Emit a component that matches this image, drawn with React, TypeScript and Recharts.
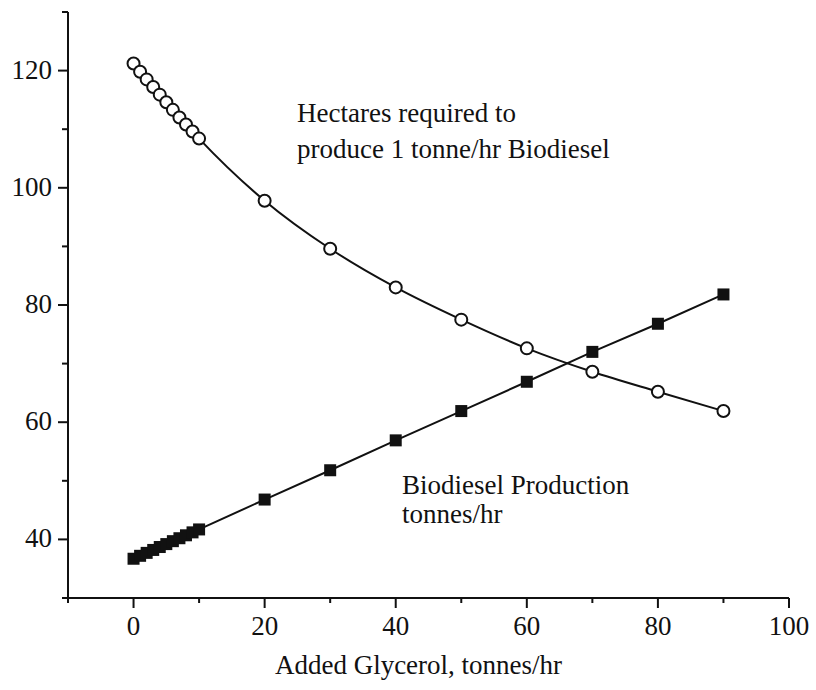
import React from 'react';
import { ComposedChart, Line, XAxis, YAxis } from 'recharts';

// added glycerol, tonnes/hr
const glycerol = [0, 1, 2, 3, 4, 5, 6, 7, 8, 9, 10, 20, 30, 40, 50, 60, 70, 80, 90];
// hectares required to produce 1 tonne/hr biodiesel
const hectares = [
  121.2, 119.8, 118.5, 117.2, 115.9, 114.6, 113.3, 112.0, 110.8, 109.6, 108.4,
  97.8, 89.6, 83.0, 77.5, 72.6, 68.6, 65.2, 61.9,
];
// biodiesel production, tonnes/hr
const biodiesel = [
  36.7, 37.2, 37.7, 38.2, 38.7, 39.2, 39.7, 40.2, 40.7, 41.2, 41.7,
  46.8, 51.8, 56.9, 61.9, 66.9, 72.0, 76.8, 81.8,
];

const xTicks = [-10, 0, 10, 20, 30, 40, 50, 60, 70, 80, 90, 100];
const yTicks = [30, 40, 50, 60, 70, 80, 90, 100, 110, 120, 130];

const FONT = '"Liberation Serif", "Times New Roman", serif';
const INK = '#111';
const FS = 27;

const rows = glycerol.map((x, i) => ({ x, hectares: hectares[i], biodiesel: biodiesel[i] }));

// labelled ticks every 20, short unlabelled ticks in between
const isMajor = (v: number) => v % 20 === 0;

function XTick(props: any) {
  const { x, y, payload } = props;
  const v = payload.value as number;
  const major = isMajor(v);
  return (
    <g>
      <line x1={x} y1={y} x2={x} y2={y + (major ? 10 : 5)} stroke={INK} strokeWidth={2} />
      {major && (
        <text x={x} y={y + 37} textAnchor="middle" fontFamily={FONT} fontSize={FS} fill={INK}>
          {v}
        </text>
      )}
    </g>
  );
}

function YTick(props: any) {
  const { x, y, payload } = props;
  const v = payload.value as number;
  const major = isMajor(v);
  return (
    <g>
      <line x1={x} y1={y} x2={x - (major ? 10 : 6)} y2={y} stroke={INK} strokeWidth={2} />
      {major && (
        <text x={x - 16} y={y + 8} textAnchor="end" fontFamily={FONT} fontSize={FS} fill={INK}>
          {v}
        </text>
      )}
    </g>
  );
}

function OpenCircle(props: any) {
  const { cx, cy, index } = props;
  return <circle key={`c-${index}`} cx={cx} cy={cy} r={6} fill="#fff" stroke={INK} strokeWidth={2} />;
}

function FilledSquare(props: any) {
  const { cx, cy, index } = props;
  return <rect key={`s-${index}`} x={cx - 6} y={cy - 6} width={12} height={12} fill={INK} />;
}

const noteStyle = { fontFamily: FONT, fontSize: FS, fill: INK } as const;

export default function App() {
  return (
    <div style={{ position: 'absolute', left: 0, top: 0, width: 816, height: 690, background: '#fff' }}>
      <ComposedChart
        width={816}
        height={690}
        data={rows}
        margin={{ top: 12, right: 27, left: 8, bottom: 12 }}
      >
        <XAxis
          type="number"
          dataKey="x"
          domain={[-10, 100]}
          ticks={xTicks}
          interval={0}
          tickSize={0}
          tickMargin={0}
          tickLine={false}
          tick={<XTick />}
          axisLine={{ stroke: INK, strokeWidth: 2 }}
          height={80}
          label={{
            value: 'Added Glycerol, tonnes/hr',
            position: 'insideBottom',
            offset: 4,
            dx: -10,
            style: { fontFamily: FONT, fontSize: FS, fill: INK },
          }}
        />
        <YAxis
          type="number"
          domain={[30, 130]}
          ticks={yTicks}
          interval={0}
          tickSize={0}
          tickMargin={0}
          tickLine={false}
          tick={<YTick />}
          axisLine={{ stroke: INK, strokeWidth: 2 }}
          width={60}
        />
        <Line
          type="monotone"
          dataKey="hectares"
          stroke={INK}
          strokeWidth={2}
          dot={OpenCircle}
          activeDot={false}
          isAnimationActive={false}
        />
        <Line
          type="linear"
          dataKey="biodiesel"
          stroke={INK}
          strokeWidth={2}
          dot={FilledSquare}
          activeDot={false}
          isAnimationActive={false}
        />
      </ComposedChart>
      <svg
        width={816}
        height={690}
        style={{ position: 'absolute', left: 0, top: 0, pointerEvents: 'none' }}
      >
        <text x={297} y={122} {...noteStyle}>Hectares required to</text>
        <text x={297} y={158} {...noteStyle}>produce 1 tonne/hr Biodiesel</text>
        <text x={402} y={494} {...noteStyle}>Biodiesel Production</text>
        <text x={402} y={523} {...noteStyle}>tonnes/hr</text>
      </svg>
    </div>
  );
}
